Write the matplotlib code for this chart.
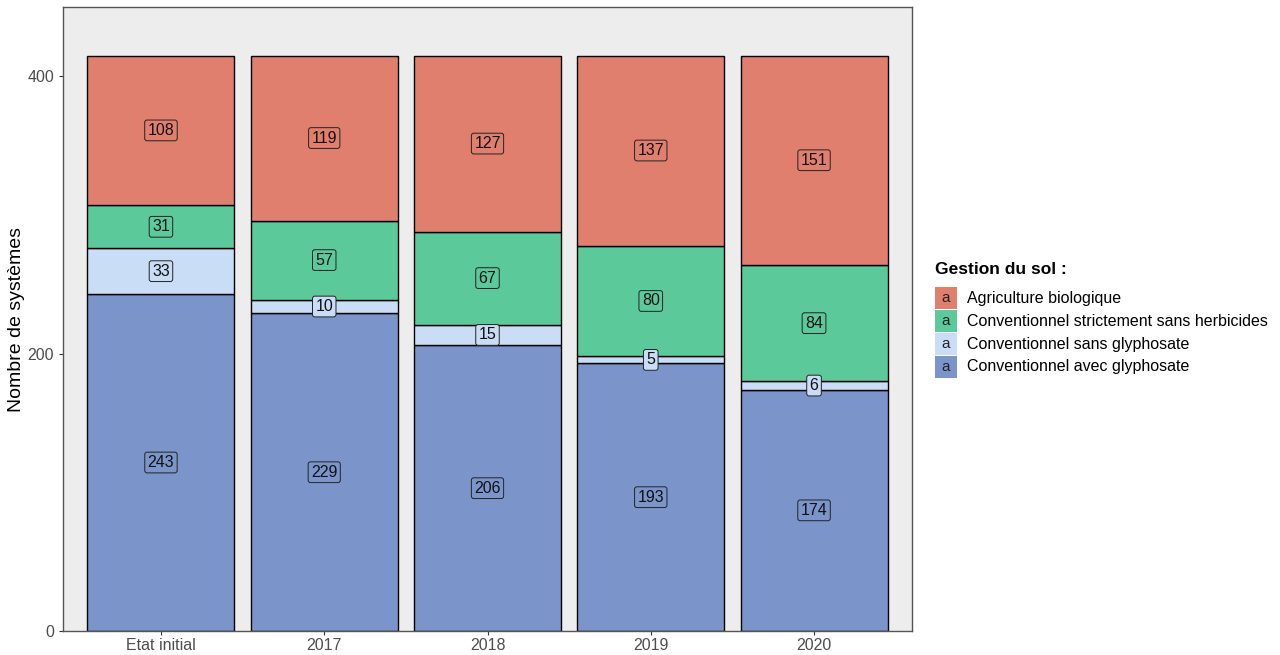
import matplotlib
matplotlib.use("Agg")
import matplotlib.pyplot as plt
from matplotlib.patches import Rectangle
import numpy as np

plt.rcParams['font.family'] = ['Liberation Sans', 'DejaVu Sans']

categories = ["Etat initial", "2017", "2018", "2019", "2020"]
series_names = ["Conventionnel avec glyphosate", "Conventionnel sans glyphosate",
                "Conventionnel strictement sans herbicides", "Agriculture biologique"]
avec_glyphosate = [243, 229, 206, 193, 174]
sans_glyphosate = [33, 10, 15, 5, 6]
sans_herbicides = [31, 57, 67, 80, 84]
biologique = [108, 119, 127, 137, 151]
series_values = [avec_glyphosate, sans_glyphosate, sans_herbicides, biologique]
colors = ["#7B95CB", "#CADDF6", "#5CC99A", "#E17F6E"]
legend_order = [3, 2, 1, 0]

fig = plt.figure(figsize=(12.8, 6.55), dpi=100)
ax = fig.add_axes([63/1280, 24/655, (912-63)/1280, (631-7)/655])
ax.set_facecolor("#EDEDED")

x = np.arange(len(categories))
bottom = np.zeros(len(categories))
for vals, col in zip(series_values, colors):
    vals = np.array(vals, dtype=float)
    ax.bar(x, vals, width=0.9, bottom=bottom, color=col, edgecolor="black", linewidth=1.0, zorder=2)
    for xi, b, v in zip(x, bottom, vals):
        ax.text(xi, b + v/2, f"{int(v)}", ha="center", va="center", fontsize=11.5, color="#111111",
                zorder=4,
                bbox=dict(boxstyle="round,pad=0.18,rounding_size=0.15", facecolor=col,
                          edgecolor="#222222", linewidth=0.7))
    bottom += vals

ax.set_xlim(-0.6, 4.6)
ax.set_ylim(0, 450)
ax.set_yticks([0, 200, 400])
ax.set_xticks(x)
ax.set_xticklabels(categories)
ax.tick_params(axis="both", labelsize=11.5, colors="#333333", length=3, width=0.8)
ax.tick_params(axis="both", labelcolor="#4D4D4D")
ax.tick_params(axis="x", pad=2)
for s in ax.spines.values():
    s.set_edgecolor("#555555")
    s.set_linewidth(1.0)

fig.text(17/1280, 1 - 319/655, "Nombre de systèmes", fontsize=14, rotation=90,
         ha="center", va="center", color="black")

# legend
fig.text(935/1280, 1 - 270/655, "Gestion du sol :", fontsize=12.5, fontweight="bold",
         ha="left", va="center")
for i, idx in enumerate(legend_order):
    yc = 298 + i*23
    fig.add_artist(Rectangle((935/1280, 1 - (yc + 11)/655), 22/1280, 22/655,
                             transform=fig.transFigure, facecolor=colors[idx], edgecolor="none"))
    fig.text(946/1280, 1 - yc/655, "a", fontsize=11, ha="center", va="center", color="#222222")
    fig.text(967/1280, 1 - yc/655, series_names[idx], fontsize=11.5, ha="left", va="center")

fig.savefig("out.png", dpi=100, facecolor="white")
